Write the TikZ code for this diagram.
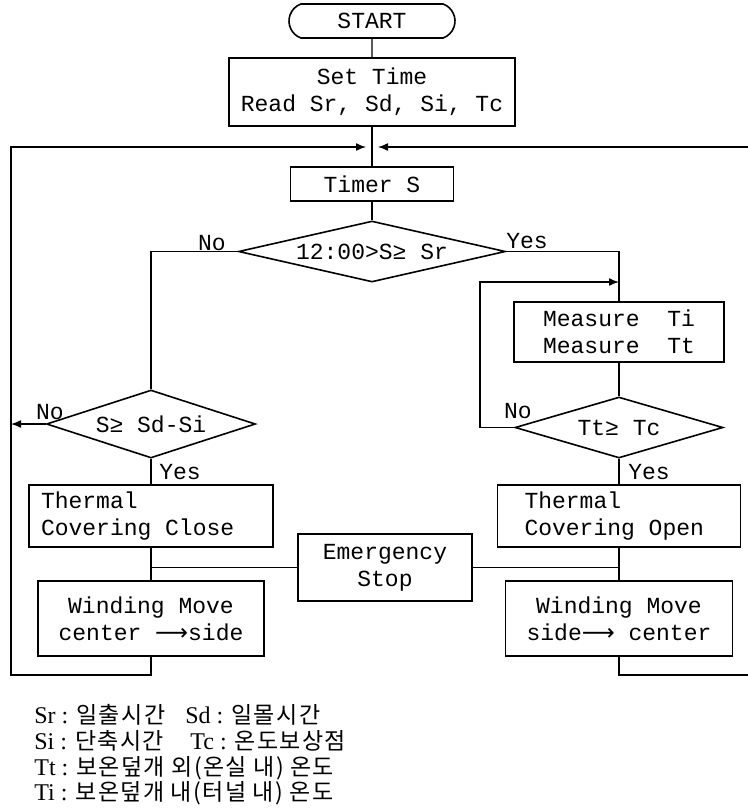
\documentclass[tikz,border=0pt]{standalone}
\usepackage{fontspec}
\setmainfont{Liberation Serif}
\setmonofont{Liberation Mono}
\newfontfamily\krfont[LetterSpace=6]{Noto Sans CJK KR}
\newfontfamily\symfont{DejaVu Sans}
\usetikzlibrary{shapes.geometric,shapes.misc,arrows.meta}
\newcommand{\hantext}[1]{{\krfont\fontsize{11.5}{14}\selectfont #1}}
\newcommand{\movearrow}{{\symfont ⟶}}
\newcommand{\ttgap}{\hspace{0.6em}}
\tikzset{
  % chart text
  chart font/.style = {
    font=\ttfamily\fontsize{11.5}{13.5}\selectfont,
  },
  % process boxes, text centred
  flow box/.style 2 args = {
    draw, rectangle, line width=0.8pt, chart font,
    inner sep=0pt, minimum width=#1, minimum height=#2,
    align=center
  },
  % process boxes, text flush left
  left box/.style 2 args = {
    draw, rectangle, line width=0.8pt, chart font,
    inner ysep=0pt, inner xsep=6pt, text width=#1,
    minimum height=#2, align=left
  },
  start box/.style = {
    draw, rounded rectangle, rounded rectangle arc length=140,
    line width=0.8pt, chart font, inner sep=0pt,
    minimum width=83pt, minimum height=17pt
  },
  % decisions
  decision/.style 2 args = {
    draw, diamond, aspect=4, line width=0.8pt, chart font,
    inner sep=0pt, minimum width=#1, minimum height=#2
  },
  branch label/.style = {chart font, inner sep=0pt},
  % connectors
  flow line/.style = {line width=0.7pt},
  flow arrow/.style = {flow line, -{Latex[length=5pt,width=4pt]}},
  % legend
  legend text/.style = {
    anchor=base west, inner sep=0pt,
    font=\fontsize{12}{14}\selectfont
  },
}
\begin{document}
\begin{tikzpicture}[x=0.5pt,y=-0.5pt]
  \useasboundingbox (0,0) rectangle (748,810);

  % main column
  \node[start box] (start) at (372,21) {START};
  \node[flow box={143pt}{34pt}] (settime) at (372,92) {Set Time\\Read Sr, Sd, Si, Tc};
  \coordinate (join) at (372,147);
  \node[flow box={81.5pt}{17pt}] (timer) at (372,184) {Timer S};
  \node[decision={133.5pt}{30.5pt}] (daytime) at (372,251.5) {12:00>S≥ Sr};

  % left column (closing)
  \node[decision={104.5pt}{34pt}] (sunset) at (151,424) {S≥ Sd-Si};
  \node[left box={110pt}{31pt}] (close) at (151,516) {Thermal\\Covering\ttgap Close};
  \node[flow box={113pt}{37.5pt}] (windl) at (151,618.5) {Winding Move\\center \movearrow side};

  % right column (opening)
  \node[flow box={105pt}{30pt}] (measure) at (619,332) {Measure\ \ Ti\\Measure\ \ Tt};
  \node[decision={104pt}{30.5pt}] (warm) at (619,427.5) {Tt≥ Tc};
  \node[left box={94.5pt}{31pt}, inner xsep=13.5pt] (open) at (619,516) {Thermal\\Covering\ttgap Open};
  \node[flow box={113.5pt}{37.5pt}] (windr) at (619,618.5) {Winding Move\\side\movearrow\ center};

  \node[flow box={87pt}{33.5pt}] (stop) at (385,567.5) {Emergency\\Stop};

  % branch labels
  \node[branch label] (no1) at (212,243) {No};
  \node[branch label] (yes1) at (527,241) {Yes};
  \node[branch label] (no2) at (50,412) {No};
  \node[branch label] (yes2) at (180,472) {Yes};
  \node[branch label] (no3) at (518,411) {No};
  \node[branch label] (yes3) at (649,472) {Yes};

  % rails of the loops
  \coordinate (lrail) at (11,675);
  \coordinate (rrail) at (748,675);
  \coordinate (rtop) at (748,147);
  \coordinate (wloop) at (480,282);

  \draw[flow line] (start) -- (settime);
  \draw[flow line] (settime) -- (timer);
  \draw[flow line] (timer) -- (daytime);
  \draw[flow line] (daytime.west) -| (sunset.north);
  \draw[flow line] (daytime.east) -| (measure.north);
  \draw[flow line] (sunset) -- (close);
  \draw[flow line] (close) -- (windl);
  \draw[flow line] (measure) -- (warm);
  \draw[flow line] (warm) -- (open);
  \draw[flow line] (open) -- (windr);
  \draw[flow line] (stop.west) -- (stop.west -| close.south);
  \draw[flow line] (stop.east) -- (stop.east -| open.south);

  \draw[flow arrow] (sunset.west) -- (sunset.west -| lrail);
  \draw[flow arrow] (warm.west) -| (wloop) -- (wloop -| measure.north);
  \draw[flow arrow, shorten >=3pt] (windl.south) |- (lrail) |- (join);
  \draw[flow line] (windr.south) |- (rrail);
  \draw[flow arrow, shorten >=3pt] (rtop) -- (join);

  % legend
  \node[legend text] (lgsr) at (34,723) {Sr : \hantext{일출시간}};
  \node[legend text] (lgsd) at (185,723) {Sd : \hantext{일몰시간}};
  \node[legend text] (lgsi) at (34,749) {Si : \hantext{단축시간}};
  \node[legend text] (lgtc) at (190,749) {Tc : \hantext{온도보상점}};
  \node[legend text] (lgtt) at (34,775) {Tt : \hantext{보온덮개 외(온실 내) 온도}};
  \node[legend text] (lgti) at (34,800) {Ti : \hantext{보온덮개 내(터널 내) 온도}};
\end{tikzpicture}
\end{document}
